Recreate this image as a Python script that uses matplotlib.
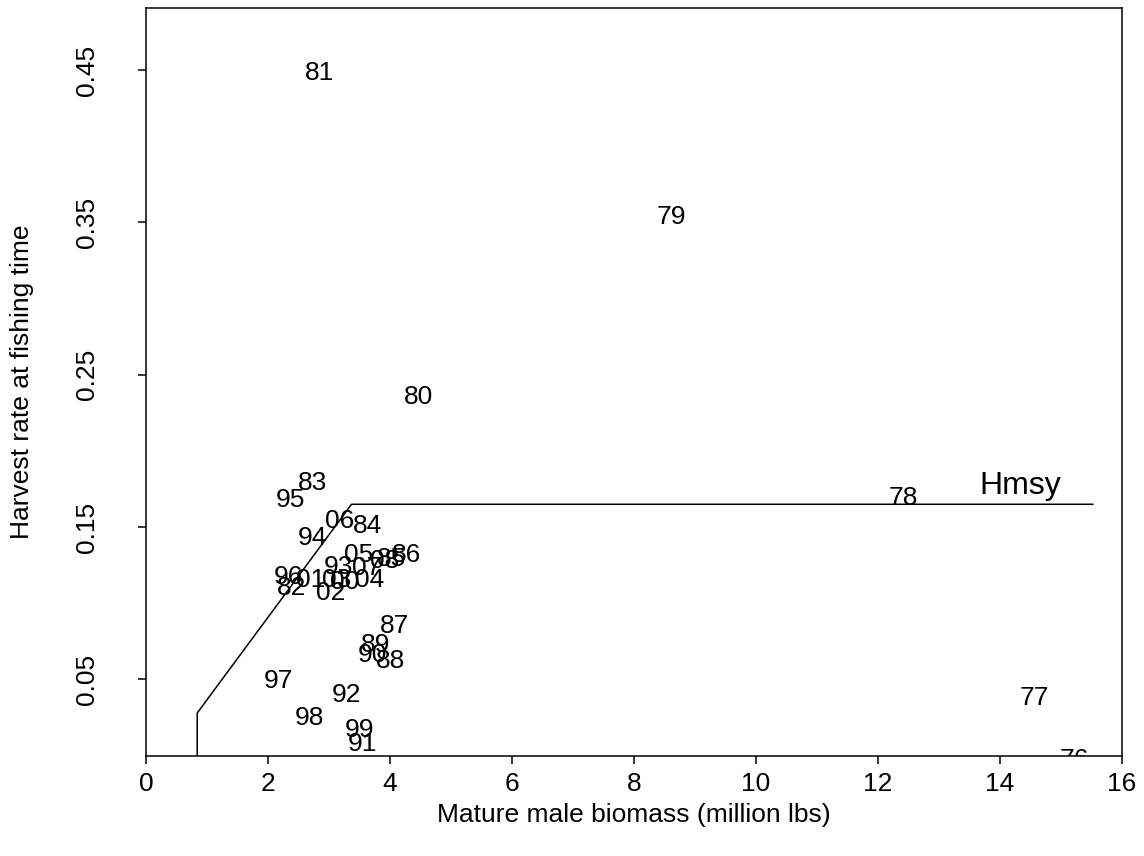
import matplotlib.pyplot as plt

plt.rcParams['font.family'] = ['Liberation Sans', 'DejaVu Sans']

# Survey years (two-digit labels) with mature male biomass and harvest rate
years = ["76", "77", "78", "79", "80", "81", "82", "83", "84", "85", "86",
         "87", "88", "89", "90", "91", "92", "93", "94", "95", "96", "97",
         "98", "99", "00", "01", "02", "03", "04", "05", "06", "07", "08"]
biomass = [15.21, 14.56, 12.41, 8.62, 4.46, 2.84, 2.39, 2.73, 3.63, 4.02, 4.27,
           4.08, 4.01, 3.77, 3.72, 3.55, 3.29, 3.15, 2.73, 2.36, 2.33, 2.17,
           2.68, 3.50, 3.26, 2.70, 3.03, 3.13, 3.66, 3.49, 3.17, 3.62, 3.92]
harvest = [-0.003, 0.0377, 0.169, 0.3535, 0.2354, 0.448, 0.110, 0.179, 0.151,
           0.129, 0.132, 0.085, 0.062, 0.0727, 0.066, 0.0077, 0.040, 0.124,
           0.143, 0.168, 0.117, 0.049, 0.0245, 0.0169, 0.114, 0.115, 0.107,
           0.115, 0.115, 0.132, 0.154, 0.123, 0.128]

# Harvest control rule (Hmsy) vertices
rule_x = [0.84, 0.84, 3.37, 15.52]
rule_y = [0.0, 0.028, 0.165, 0.165]

fs = 19

fig = plt.figure(figsize=(11.44, 8.56), dpi=100)
ax = fig.add_axes([0.1276, 0.1172, 0.8532, 0.8731])

ax.plot(rule_x, rule_y, color="black", lw=1.1)
ax.text(13.66, 0.172, "Hmsy", fontsize=23, ha="left", va="baseline")

for yr, b, h in zip(years, biomass, harvest):
    ax.text(b, h, yr, fontsize=fs, ha="center", va="center", clip_on=True)

ax.set_xlim(0, 16)
ax.set_ylim(0, 0.4905)
ax.set_xticks(range(0, 17, 2))
ax.set_yticks([0.05, 0.15, 0.25, 0.35, 0.45])
ax.set_yticklabels(["0.05", "0.15", "0.25", "0.35", "0.45"], rotation=90, va="center")

for s in ax.spines.values():
    s.set_linewidth(1.1)
ax.tick_params(axis="both", direction="out", length=5.5, width=1.1, labelsize=fs)
ax.tick_params(axis="x", pad=6)
ax.tick_params(axis="y", pad=28)

ax.set_xlabel("Mature male biomass (million lbs)", fontsize=fs, labelpad=5)
ax.set_ylabel("Harvest rate at fishing time", fontsize=fs, labelpad=30)

fig.savefig("out.png", dpi=100)
